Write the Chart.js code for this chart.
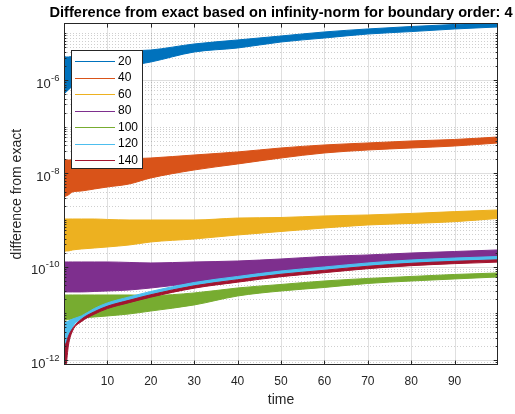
<!DOCTYPE html>
<html>
<head>
<meta charset="utf-8">
<script src="https://cdn.jsdelivr.net/npm/chart.js@4.4.1/dist/chart.umd.min.js"></script>
<style>
  html, body { margin: 0; padding: 0; background: #ffffff; }
  #wrap { width: 515px; height: 414px; position: relative; }
</style>
</head>
<body>
<div id="wrap"><canvas id="c" width="515" height="414"></canvas></div>
<script>
// Sample times at which the band envelopes are given
const time = [0, 0.5, 1, 2, 4, 7, 10, 15, 20, 30, 40, 50, 60, 70, 80, 90, 100];

const seriesNames = ['20', '40', '60', '80', '100', '120', '140'];
const seriesColors = ['#0072BD', '#D95319', '#EDB120', '#7E2F8E', '#77AC30', '#4DBEEE', '#A2142F'];

// Upper / lower envelope of the oscillating error for each grid size
const err20Upper  = [3.27e-6, 3.11e-6, 3.11e-6, 3.27e-6, 3.43e-6, 3.61e-6, 3.79e-6, 4.18e-6, 4.39e-6, 5.91e-6, 7.20e-6, 8.77e-6, 1.07e-5, 1.24e-5, 1.40e-5, 1.55e-5, 1.71e-5];
const err20Lower  = [5.01e-7, 5.53e-7, 6.11e-7, 7.44e-7, 1.00e-6, 1.28e-6, 1.56e-6, 2.00e-6, 2.43e-6, 3.98e-6, 4.85e-6, 6.52e-6, 7.94e-6, 9.67e-6, 1.09e-5, 1.24e-5, 1.37e-5];

const err40Upper  = [1.93e-8, 1.93e-8, 1.93e-8, 1.93e-8, 1.93e-8, 1.93e-8, 1.93e-8, 2.03e-8, 2.13e-8, 2.47e-8, 2.87e-8, 3.49e-8, 4.05e-8, 4.47e-8, 4.93e-8, 5.31e-8, 6.01e-8];
const err40Lower  = [3.11e-9, 3.27e-9, 3.44e-9, 3.98e-9, 4.18e-9, 4.62e-9, 5.10e-9, 5.91e-9, 7.95e-9, 1.18e-8, 1.585e-8, 2.13e-8, 2.73e-8, 3.16e-8, 3.49e-8, 3.85e-8, 4.47e-8];

const err60Upper  = [1.05e-9, 1.05e-9, 1.05e-9, 1.05e-9, 1.05e-9, 1.05e-9, 1.025e-9, 1.00e-9, 1.00e-9, 1.00e-9, 1.10e-9, 1.13e-9, 1.22e-9, 1.28e-9, 1.38e-9, 1.51e-9, 1.64e-9];
const err60Lower  = [2.06e-10, 2.17e-10, 2.17e-10, 2.28e-10, 2.39e-10, 2.51e-10, 2.64e-10, 2.91e-10, 3.38e-10, 3.92e-10, 4.77e-10, 5.67e-10, 6.74e-10, 7.82e-10, 8.42e-10, 9.20e-10, 1.08e-9];

const err80Upper  = [1.26e-10, 1.26e-10, 1.26e-10, 1.26e-10, 1.26e-10, 1.26e-10, 1.26e-10, 1.23e-10, 1.20e-10, 1.26e-10, 1.32e-10, 1.46e-10, 1.65e-10, 1.78e-10, 1.96e-10, 2.11e-10, 2.28e-10];
const err80Lower  = [2.87e-11, 2.87e-11, 2.87e-11, 2.87e-11, 2.87e-11, 2.94e-11, 3.01e-11, 3.16e-11, 3.49e-11, 4.47e-11, 5.87e-11, 7.32e-11, 9.37e-11, 1.09e-10, 1.20e-10, 1.29e-10, 1.50e-10];

const err100Upper = [2.47e-11, 2.47e-11, 2.47e-11, 2.47e-11, 2.47e-11, 2.47e-11, 2.47e-11, 2.47e-11, 2.41e-11, 2.73e-11, 3.49e-11, 4.15e-11, 4.93e-11, 5.58e-11, 6.16e-11, 6.80e-11, 7.32e-11];
const err100Lower = [7.20e-12, 7.20e-12, 7.38e-12, 7.56e-12, 7.95e-12, 8.35e-12, 8.78e-12, 9.69e-12, 1.12e-11, 1.51e-11, 2.35e-11, 3.01e-11, 3.58e-11, 4.36e-11, 4.93e-11, 5.45e-11, 6.01e-11];

const err120Upper = [6.53e-12, 6.53e-12, 6.86e-12, 7.56e-12, 8.78e-12, 1.27e-11, 1.67e-11, 2.24e-11, 2.94e-11, 4.58e-11, 6.16e-11, 8.08e-11, 9.84e-11, 1.20e-10, 1.39e-10, 1.53e-10, 1.65e-10];
const err120Lower = [1.90e-12, 2.00e-12, 2.69e-12, 5.10e-12, 7.56e-12, 1.10e-11, 1.44e-11, 1.93e-11, 2.53e-11, 3.95e-11, 5.31e-11, 6.97e-11, 8.49e-11, 1.03e-10, 1.20e-10, 1.32e-10, 1.42e-10];

const err140Upper = [2.00e-12, 2.32e-12, 3.19e-12, 4.78e-12, 7.46e-12, 1.08e-11, 1.42e-11, 1.90e-11, 2.50e-11, 3.89e-11, 5.24e-11, 6.87e-11, 8.36e-11, 1.02e-10, 1.18e-10, 1.30e-10, 1.40e-10];
const err140Lower = [3.00e-13, 7.44e-13, 2.00e-12, 4.25e-12, 6.62e-12, 9.59e-12, 1.26e-11, 1.69e-11, 2.22e-11, 3.46e-11, 4.65e-11, 6.10e-11, 7.43e-11, 9.05e-11, 1.05e-10, 1.16e-10, 1.25e-10];

const upperSets = [err20Upper, err40Upper, err60Upper, err80Upper, err100Upper, err120Upper, err140Upper];
const lowerSets = [err20Lower, err40Lower, err60Lower, err80Lower, err100Lower, err120Lower, err140Lower];

// Axis ranges and ticks
const xMin = 0, xMax = 100;
const xTickValues = [10, 20, 30, 40, 50, 60, 70, 80, 90];
const yMin = 7.8e-13, yMax = 1.64e-5;
const yTickExponents = [-12, -10, -8, -6];

const FONT = '"Liberation Sans", Arial, Helvetica, sans-serif';
const AXIS_COLOR = '#262626';

// Each series is a filled band between its upper and lower envelope
const datasets = [];
seriesNames.forEach((name, i) => {
  const n = seriesNames.length;
  const hi = time.map((t, k) => ({ x: t, y: upperSets[i][k] }));
  const lo = time.map((t, k) => ({ x: t, y: lowerSets[i][k] }));
  const common = {
    borderColor: seriesColors[i],
    backgroundColor: seriesColors[i],
    borderWidth: 1,
    pointRadius: 0,
    cubicInterpolationMode: 'monotone',
    order: n - i
  };
  datasets.push(Object.assign({ label: name, data: hi, fill: '+1' }, common));
  datasets.push(Object.assign({ label: name + ' (lower)', data: lo, fill: false }, common));
});

// Grid drawn underneath the bands: solid major lines, dotted minor log lines
const gridPlugin = {
  id: 'matlabGrid',
  beforeDatasetsDraw(chart) {
    const { ctx, chartArea: a, scales: { x, y } } = chart;
    ctx.save();
    ctx.beginPath();
    ctx.rect(a.left, a.top, a.right - a.left, a.bottom - a.top);
    ctx.clip();
    ctx.lineWidth = 1;
    // minor horizontal (dotted)
    ctx.strokeStyle = 'rgba(38,38,38,0.22)';
    ctx.setLineDash([1, 2]);
    for (let e = -13; e <= -5; e++) {
      for (let k = 1; k <= 9; k++) {
        const v = k * Math.pow(10, e);
        if (v < yMin || v > yMax) continue;
        if (k === 1 && yTickExponents.includes(e)) continue;
        const py = Math.round(y.getPixelForValue(v)) + 0.5;
        ctx.beginPath(); ctx.moveTo(a.left, py); ctx.lineTo(a.right, py); ctx.stroke();
      }
    }
    // major lines (solid)
    ctx.setLineDash([]);
    ctx.strokeStyle = 'rgba(38,38,38,0.15)';
    xTickValues.forEach(v => {
      const px = Math.round(x.getPixelForValue(v)) + 0.5;
      ctx.beginPath(); ctx.moveTo(px, a.top); ctx.lineTo(px, a.bottom); ctx.stroke();
    });
    yTickExponents.forEach(e => {
      const py = Math.round(y.getPixelForValue(Math.pow(10, e))) + 0.5;
      ctx.beginPath(); ctx.moveTo(a.left, py); ctx.lineTo(a.right, py); ctx.stroke();
    });
    ctx.restore();
  }
};

// Axes box, inward ticks, y tick labels with exponents, legend and title
const framePlugin = {
  id: 'matlabFrame',
  afterDatasetsDraw(chart) {
    const { ctx, chartArea: a, scales: { x, y } } = chart;
    ctx.save();
    ctx.strokeStyle = AXIS_COLOR;
    ctx.lineWidth = 1;
    ctx.setLineDash([]);

    // ticks
    const tMaj = 4.3, tMin = 2.4;
    ctx.beginPath();
    xTickValues.forEach(v => {
      const px = Math.round(x.getPixelForValue(v)) + 0.5;
      ctx.moveTo(px, a.bottom); ctx.lineTo(px, a.bottom - tMaj);
      ctx.moveTo(px, a.top); ctx.lineTo(px, a.top + tMaj);
    });
    for (let e = -13; e <= -5; e++) {
      for (let k = 1; k <= 9; k++) {
        const v = k * Math.pow(10, e);
        if (v < yMin || v > yMax) continue;
        const len = (k === 1 && yTickExponents.includes(e)) ? tMaj : tMin;
        const py = Math.round(y.getPixelForValue(v)) + 0.5;
        ctx.moveTo(a.left, py); ctx.lineTo(a.left + len, py);
        ctx.moveTo(a.right, py); ctx.lineTo(a.right - len, py);
      }
    }
    ctx.stroke();

    // box
    ctx.strokeRect(Math.round(a.left) + 0.5, Math.round(a.top) + 0.5,
                   Math.round(a.right - a.left) - 1, Math.round(a.bottom - a.top) - 1);

    // y tick labels: 10 with raised exponent
    ctx.fillStyle = AXIS_COLOR;
    ctx.textBaseline = 'alphabetic';
    yTickExponents.forEach(e => {
      const py = y.getPixelForValue(Math.pow(10, e));
      const expText = String(e);
      ctx.font = '9.5px ' + FONT;
      ctx.textAlign = 'right';
      const rightEdge = 59.5;
      const expW = ctx.measureText(expText).width;
      ctx.fillText(expText, rightEdge, py + 0.8);
      ctx.font = '13px ' + FONT;
      ctx.fillText('10', rightEdge - expW - 0.3, py + 7.6);
    });

    // legend
    const lx = 71.5, ly = 50.5, lw = 71, lh = 118;
    ctx.fillStyle = '#ffffff';
    ctx.fillRect(lx, ly, lw, lh);
    ctx.strokeStyle = AXIS_COLOR;
    ctx.strokeRect(lx, ly, lw, lh);
    ctx.font = '12px ' + FONT;
    ctx.textAlign = 'left';
    ctx.textBaseline = 'middle';
    seriesNames.forEach((name, i) => {
      const ry = 61 + 16.5 * i;
      ctx.strokeStyle = seriesColors[i];
      ctx.lineWidth = 1;
      ctx.beginPath();
      ctx.moveTo(75, Math.round(ry) + 0.5);
      ctx.lineTo(115, Math.round(ry) + 0.5);
      ctx.stroke();
      ctx.fillStyle = '#000000';
      ctx.fillText(name, 118, ry + 0.5);
    });

    // title
    ctx.fillStyle = '#000000';
    ctx.font = 'bold 14.6px ' + FONT;
    ctx.textAlign = 'center';
    ctx.textBaseline = 'alphabetic';
    ctx.fillText('Difference from exact based on infinity-norm for boundary order: 4', (a.left + a.right) / 2, 16.8);
    ctx.restore();
  }
};

new Chart(document.getElementById('c').getContext('2d'), {
  type: 'line',
  data: { datasets },
  options: {
    responsive: false,
    animation: false,
    events: [],
    layout: { padding: { left: 0, right: 17, top: 23.3, bottom: 0 }, autoPadding: false },
    plugins: {
      legend: { display: false },
      tooltip: { enabled: false },
      title: { display: false }
    },
    scales: {
      x: {
        type: 'linear',
        min: xMin,
        max: xMax,
        grid: { display: false, drawTicks: false },
        border: { display: false },
        ticks: {
          stepSize: 10,
          padding: 9.5,
          maxRotation: 0,
          autoSkip: false,
          color: AXIS_COLOR,
          font: { family: FONT, size: 12 },
          callback: v => (v === xMin || v === xMax) ? '' : String(v)
        },
        title: {
          display: true,
          text: 'time',
          color: AXIS_COLOR,
          font: { family: FONT, size: 14 },
          padding: { top: 0, bottom: 5.6 }
        },
        afterFit: s => { s.height = 49; }
      },
      y: {
        type: 'logarithmic',
        min: yMin,
        max: yMax,
        grid: { display: false, drawTicks: false },
        border: { display: false },
        ticks: { display: false },
        title: {
          display: true,
          text: 'difference from exact',
          color: AXIS_COLOR,
          font: { family: FONT, size: 14 },
          padding: { top: 8.6, bottom: 0 }
        },
        afterFit: s => { s.width = 64; }
      }
    }
  },
  plugins: [gridPlugin, framePlugin]
});
</script>
</body>
</html>
